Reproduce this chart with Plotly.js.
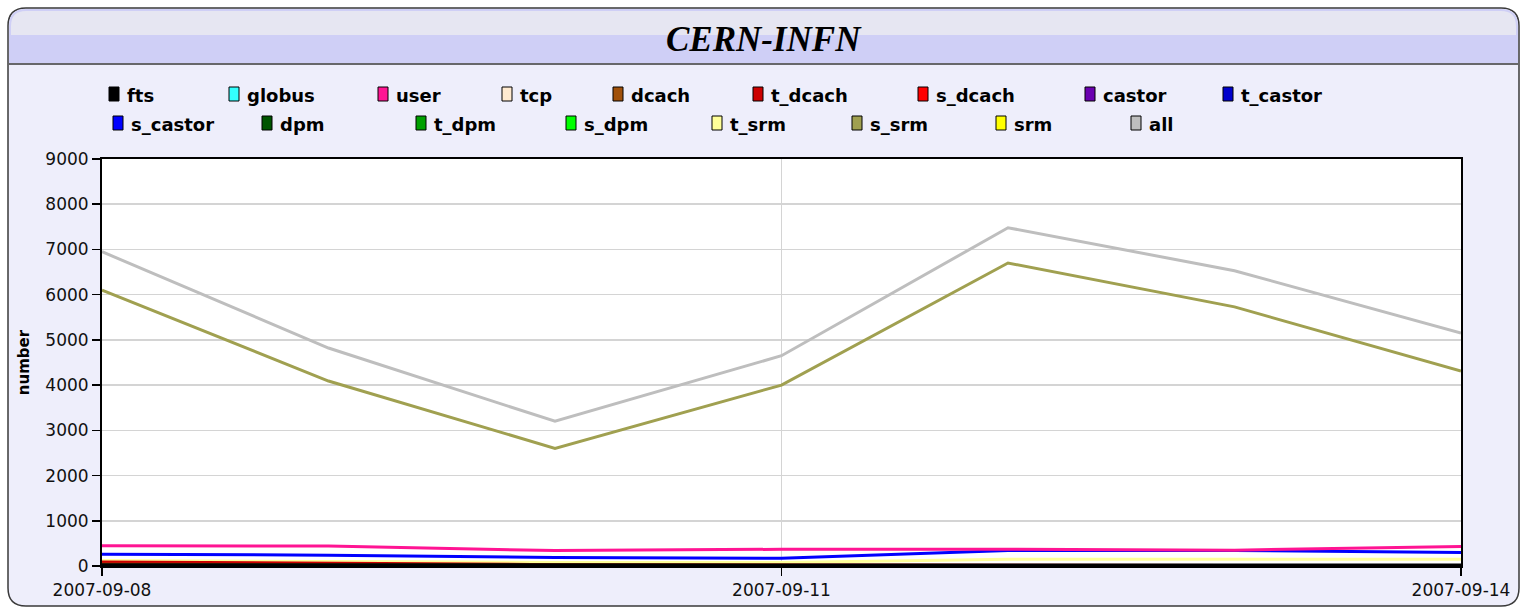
<!DOCTYPE html>
<html>
<head>
<meta charset="utf-8">
<script src="https://cdn.plot.ly/plotly-3.0.1.min.js"></script>
<style>html,body{margin:0;padding:0;background:#fff;}#chart{width:1528px;height:610px;}</style>
</head>
<body>
<div id="chart"></div>
<script>
// ---- data ----
const chartTitle = 'CERN-INFN';
const yTitle = 'number';
const dates = ['2007-09-08','2007-09-09','2007-09-10','2007-09-11','2007-09-12','2007-09-13','2007-09-14'];
const xTickVals = ['2007-09-08','2007-09-11','2007-09-14'];
const xTickText = ['2007-09-08','2007-09-11','2007-09-14'];
const seriesNames = ['fts','globus','user','tcp','dcach','t_dcach','s_dcach','castor','t_castor','s_castor','dpm','t_dpm','s_dpm','t_srm','s_srm','srm','all'];
const fts      = [30, 25, 20, 20, 20, 20, 20];
const globus   = [0, 0, 0, 0, 0, 0, 0];
const user     = [450, 440, 340, 370, 370, 350, 430];
const tcp      = [0, 0, 0, 0, 0, 0, 0];
const dcach    = [40, 30, 20, 20, 10, 10, 10];
const t_dcach  = [90, 60, 30, 20, 10, 10, 10];
const s_dcach  = [0, 0, 0, 0, 0, 0, 0];
const castor   = [0, 0, 0, 0, 0, 0, 0];
const t_castor = [0, 0, 0, 0, 0, 0, 0];
const s_castor = [260, 240, 190, 170, 340, 345, 300];
const dpm      = [0, 0, 0, 0, 0, 0, 0];
const t_dpm    = [0, 0, 0, 0, 0, 0, 0];
const s_dpm    = [0, 0, 0, 0, 0, 0, 0];
const t_srm    = [120, 100, 80, 80, 150, 150, 150];
const s_srm    = [6100, 4090, 2600, 4000, 6700, 5730, 4310];
const srm      = [0, 0, 0, 0, 0, 0, 0];
const all      = [6950, 4820, 3200, 4650, 7480, 6530, 5150];
const seriesValues = [fts, globus, user, tcp, dcach, t_dcach, s_dcach, castor, t_castor, s_castor, dpm, t_dpm, s_dpm, t_srm, s_srm, srm, all];

// ---- styles ----
const colors = ['#000000','#33FFFF','#FF1493','#FFEAD0','#A0500A','#CC0000','#FF0000','#6A00B0','#0000CC','#0000FF','#005500','#00A000','#00FF00','#FFFF99','#A0A050','#FFFF00','#BEBEBE'];
// legend layout (pixel positions of each entry's text start and row)
const legendX = [127,247,396,520,631,771,936,1103,1241, 131,280,434,584,730,870,1014,1149];
const legendRow = [0,0,0,0,0,0,0,0,0, 1,1,1,1,1,1,1,1];
const rowY = [94, 123];

const W = 1528, H = 610;
const L = 102, R = 1461, T = 159, B = 566;
const PW = R - L, PH = B - T;
const X = px => (px - L) / PW;
const Y = py => (B - py) / PH;

function roundRect(x0, y0, x1, y1, r, topOnly) {
  const p = [];
  p.push(`M ${X(x0)},${Y(y0 + r)}`);
  p.push(`Q ${X(x0)},${Y(y0)} ${X(x0 + r)},${Y(y0)}`);
  p.push(`L ${X(x1 - r)},${Y(y0)}`);
  p.push(`Q ${X(x1)},${Y(y0)} ${X(x1)},${Y(y0 + r)}`);
  if (topOnly) {
    p.push(`L ${X(x1)},${Y(y1)}`);
    p.push(`L ${X(x0)},${Y(y1)}`);
  } else {
    p.push(`L ${X(x1)},${Y(y1 - r)}`);
    p.push(`Q ${X(x1)},${Y(y1)} ${X(x1 - r)},${Y(y1)}`);
    p.push(`L ${X(x0 + r)},${Y(y1)}`);
    p.push(`Q ${X(x0)},${Y(y1)} ${X(x0)},${Y(y1 - r)}`);
  }
  p.push('Z');
  return p.join(' ');
}

const shapes = [
  {type:'path', xref:'paper', yref:'paper', layer:'below', path: roundRect(8, 8, 1519, 606, 18, false), fillcolor:'#EEEEFB', line:{color:'#3a3a3a', width:1.5}},
  {type:'path', xref:'paper', yref:'paper', layer:'below', path: roundRect(9, 9, 1518, 63, 17, true), fillcolor:'#CFCFF6', line:{width:0}},
  {type:'path', xref:'paper', yref:'paper', layer:'below', path: roundRect(11, 11, 1516, 35, 15, true), fillcolor:'#E6E6F2', line:{width:0}},
  {type:'line', xref:'paper', yref:'paper', layer:'below', x0:X(9), x1:X(1518), y0:Y(64), y1:Y(64), line:{color:'#3a3a3a', width:1.5}},
  {type:'rect', xref:'paper', yref:'paper', layer:'below', x0:0, x1:1, y0:0, y1:1, fillcolor:'#FFFFFF', line:{width:0}}
];
const annotations = [
  {xref:'paper', yref:'paper', x:X(764), y:Y(39), text:'<b><i>' + chartTitle + '</i></b>', showarrow:false, xanchor:'center', yanchor:'middle',
   font:{family:'Liberation Serif, Times New Roman, serif', size:35, color:'#000'}}
];
seriesNames.forEach((name, i) => {
  const tx = legendX[i], cy = rowY[legendRow[i]];
  shapes.push({type:'rect', xref:'paper', yref:'paper', layer:'above', x0:X(tx - 18), x1:X(tx - 8), y0:Y(cy + 7), y1:Y(cy - 7),
    fillcolor: colors[i], line:{color:'#000', width:1}});
  annotations.push({xref:'paper', yref:'paper', x:X(tx - 2), y:Y(cy + 1), text:'<b>' + name + '</b>', showarrow:false, xanchor:'left', yanchor:'middle',
    font:{family:'DejaVu Sans, Verdana, sans-serif', size:18, color:'#000'}});
});

// traces drawn in reverse order so that 'fts' ends on top
const traces = [];
for (let i = seriesNames.length - 1; i >= 0; i--) {
  traces.push({type:'scatter', mode:'lines', name: seriesNames[i], x: dates, y: seriesValues[i],
    line:{color: colors[i], width:3}, showlegend:false, hoverinfo:'x+y+name'});
}

const layout = {
  width: W, height: H,
  margin: {l: L, r: W - R, t: T, b: H - B, pad: 0},
  paper_bgcolor: '#FFFFFF',
  plot_bgcolor: '#FFFFFF',
  showlegend: false,
  font: {family: 'DejaVu Sans, Verdana, sans-serif', size: 17, color: '#000'},
  xaxis: {
    type: 'date', range: [dates[0], dates[dates.length - 1]],
    tickmode: 'array', tickvals: xTickVals, ticktext: xTickText,
    showgrid: true, gridcolor: '#D4D4D4', gridwidth: 1.5,
    showline: true, linecolor: '#000', linewidth: 2, mirror: true,
    ticks: 'outside', ticklen: 8, tickcolor: '#000', tickwidth: 1.5,
    tickfont: {size: 17, color: '#111'}, zeroline: false, fixedrange: true
  },
  yaxis: {
    range: [0, 9000], dtick: 1000, tick0: 0,
    showgrid: true, gridcolor: '#D4D4D4', gridwidth: 1.5,
    showline: true, linecolor: '#000', linewidth: 2, mirror: true,
    ticks: 'outside', ticklen: 8, tickcolor: '#000', tickwidth: 1.5,
    tickfont: {size: 17, color: '#111'}, zeroline: false, fixedrange: true,
    title: {text: '<b>' + yTitle + '</b>', font: {size: 15, color: '#000'}, standoff: 12}
  },
  shapes: shapes,
  annotations: annotations
};

Plotly.newPlot('chart', traces, layout, {displayModeBar: false, staticPlot: true});
</script>
</body>
</html>
